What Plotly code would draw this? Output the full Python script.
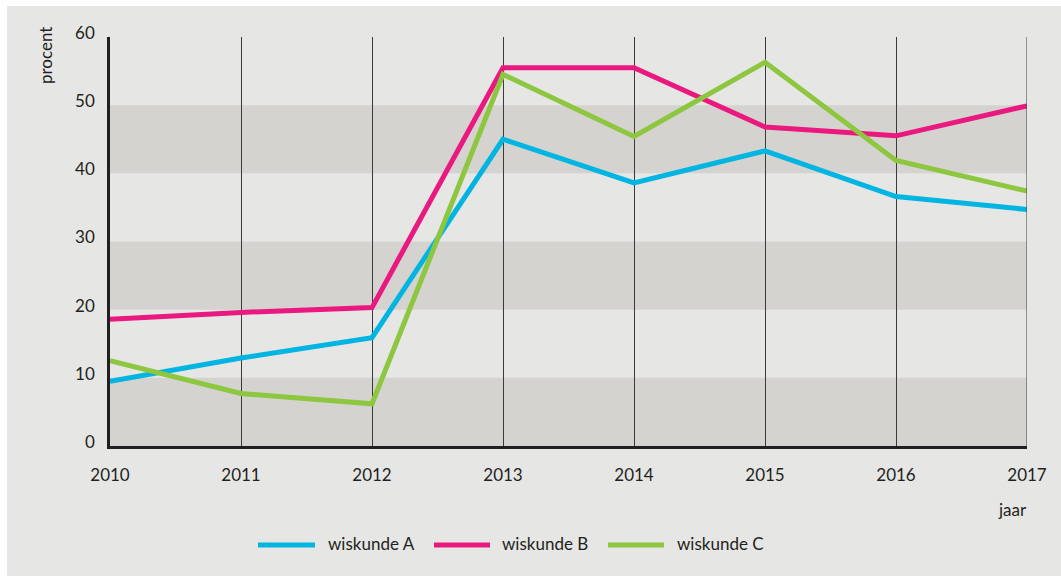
import plotly.graph_objects as go

# Share of students per subject, by year
years = [2010, 2011, 2012, 2013, 2014, 2015, 2016, 2017]
wiskunde_a = [9.5, 12.9, 15.9, 45.0, 38.6, 43.3, 36.6, 34.7]
wiskunde_b = [18.6, 19.6, 20.3, 55.5, 55.5, 46.8, 45.5, 49.9]
wiskunde_c = [12.5, 7.7, 6.2, 54.5, 45.4, 56.3, 41.9, 37.4]

series_names = ["wiskunde A", "wiskunde B", "wiskunde C"]
series_colors = ["#00b5e1", "#e9197f", "#8dc63f"]
y_ticks = [0, 10, 20, 30, 40, 50, 60]
band_ranges = [(0, 10), (20, 30), (40, 50)]

FONT = "Lato"
TEXT = "#231f20"
BG = "#e6e6e4"
BAND = "#d5d3cf"

fig = go.Figure()

for name, vals, col in zip(series_names, [wiskunde_a, wiskunde_b, wiskunde_c], series_colors):
    fig.add_trace(go.Scatter(
        x=years, y=vals, name=name, mode="lines",
        line=dict(color=col, width=5),
        showlegend=False,
    ))

shapes = []
# outer grey panel
shapes.append(dict(type="rect", xref="paper", yref="paper",
                   x0=-0.1123, x1=1.04, y0=-0.32, y1=1.0758,
                   fillcolor=BG, line=dict(width=0), layer="below"))
# horizontal bands
for lo, hi in band_ranges:
    shapes.append(dict(type="rect", xref="x", yref="y",
                       x0=years[0], x1=years[-1], y0=lo, y1=hi,
                       fillcolor=BAND, line=dict(width=0), layer="below"))
# closing line on the right edge
shapes.append(dict(type="line", xref="x", yref="y",
                   x0=years[-1], x1=years[-1], y0=0, y1=60,
                   line=dict(color="#3a3a3a", width=1)))

# legend drawn below the plot
legend_x = [(258, 315, 326), (434, 490, 500), (608, 664, 675)]
plot_l, plot_r, plot_t, plot_b = 110, 1027, 37, 446
def px(xp):
    return (xp - plot_l) / (plot_r - plot_l)
def py(yp):
    return (plot_b - yp) / (plot_b - plot_t)

annotations = []
for (x0, x1, xt), name, col in zip(legend_x, series_names, series_colors):
    shapes.append(dict(type="line", xref="paper", yref="paper",
                       x0=px(x0), x1=px(x1), y0=py(545), y1=py(545),
                       line=dict(color=col, width=5)))
    annotations.append(dict(text=name, xref="paper", yref="paper",
                            x=px(xt), y=py(543), xanchor="left", yanchor="middle",
                            showarrow=False, font=dict(family=FONT, size=17, color=TEXT)))

annotations.append(dict(text="jaar", xref="paper", yref="paper",
                        x=px(1012), y=py(509), xanchor="center", yanchor="middle",
                        showarrow=False, font=dict(family=FONT, size=17, color=TEXT)))
annotations.append(dict(text="procent", xref="paper", yref="paper",
                        x=px(45), y=py(56), xanchor="center", yanchor="middle",
                        textangle=-90, showarrow=False,
                        font=dict(family=FONT, size=17, color=TEXT)))

fig.update_layout(
    width=1061, height=576,
    margin=dict(l=plot_l, r=1061 - plot_r, t=plot_t, b=576 - plot_b),
    paper_bgcolor="white",
    plot_bgcolor="rgba(0,0,0,0)",
    font=dict(family=FONT, size=17, color=TEXT),
    shapes=shapes,
    annotations=annotations,
    showlegend=False,
    xaxis=dict(
        range=[years[0], years[-1]],
        tickmode="array", tickvals=years, ticktext=[str(y) for y in years],
        showgrid=True, gridcolor="#3a3a3a", gridwidth=1,
        showline=True, linecolor="#231f20", linewidth=2.5,
        ticks="", ticklabelstandoff=12,
        tickfont=dict(family=FONT, size=17, color=TEXT),
        zeroline=False, fixedrange=True,
    ),
    yaxis=dict(
        range=[0, 60],
        tickmode="array", tickvals=y_ticks,
        showgrid=False,
        showline=True, linecolor="#231f20", linewidth=2.5,
        ticks="", ticklabelstandoff=9, ticklabelshift=-4,
        tickfont=dict(family=FONT, size=17, color=TEXT),
        zeroline=False, fixedrange=True,
    ),
)

fig.write_html("out.html")
